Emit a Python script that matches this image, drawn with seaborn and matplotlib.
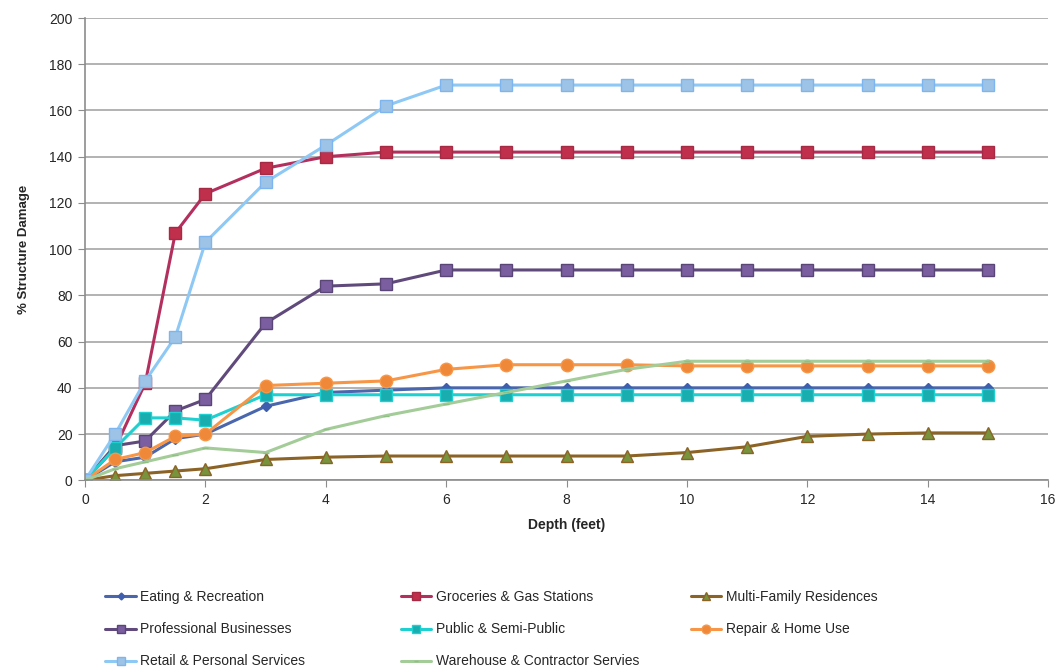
import numpy as np
import pandas as pd
import matplotlib
matplotlib.use('Agg')
import matplotlib.pyplot as plt
import seaborn as sns

depth = [0, 0.5, 1, 1.5, 2, 3, 4, 5, 6, 7, 8, 9, 10, 11, 12, 13, 14, 15]

eating = [0, 8, 10, 18, 20, 32, 38, 39, 40, 40, 40, 40, 40, 40, 40, 40, 40, 40]
groceries = [0, 14, 42, 107, 124, 135, 140, 142, 142, 142, 142, 142, 142, 142, 142, 142, 142, 142]
multi_family = [0, 2, 3, 4, 5, 9, 10, 10.5, 10.5, 10.5, 10.5, 10.5, 12, 14.5, 19, 20, 20.5, 20.5]
professional = [0, 15, 17, 30, 35, 68, 84, 85, 91, 91, 91, 91, 91, 91, 91, 91, 91, 91]
public = [0, 14, 27, 27, 26, 37, 37, 37, 37, 37, 37, 37, 37, 37, 37, 37, 37, 37]
repair = [0, 9, 12, 19, 20, 41, 42, 43, 48, 50, 50, 50, 49.5, 49.5, 49.5, 49.5, 49.5, 49.5]
retail = [0, 20, 43, 62, 103, 129, 145, 162, 171, 171, 171, 171, 171, 171, 171, 171, 171, 171]
warehouse = [0, 5, 8, 11, 14, 12, 22, 28, 33, 38, 43, 48, 51.5, 51.5, 51.5, 51.5, 51.5, 51.5]

series_names = ['Eating & Recreation', 'Groceries & Gas Stations', 'Multi-Family Residences',
                'Professional Businesses', 'Public & Semi-Public', 'Repair & Home Use',
                'Retail & Personal Services', 'Warehouse & Contractor Servies']
series_values = [eating, groceries, multi_family, professional, public, repair, retail, warehouse]

# line colour, marker, marker face, marker edge, marker size
styles = [
    ('#4a66ac', 'D', '#3f5fae', '#3f5fae', 5),
    ('#b3305e', 's', '#c0304d', '#a52a44', 8),
    ('#8b6326', '^', '#77933c', '#8b6326', 8),
    ('#604a7b', 's', '#7b5ea0', '#5a4577', 8),
    ('#1fd0d0', 's', '#1aadb0', '#1fd0d0', 8),
    ('#f79646', 'o', '#f0883a', '#f79646', 9),
    ('#8ec8f5', 's', '#9dc3e6', '#7fb5ee', 8),
    ('#a3cc98', '_', '#a3cc98', '#8fbf85', 5),
]

sns.set_style('white')
plt.rcParams['font.family'] = ['Liberation Sans', 'DejaVu Sans']

fig = plt.figure(figsize=(10.63, 6.68), dpi=100)
ax = fig.add_axes([0.080, 0.281, 0.906, 0.692])

for name, vals, (lc, mk, mfc, mec, ms) in zip(series_names, series_values, styles):
    df = pd.DataFrame({'depth': depth, 'damage': vals})
    sns.lineplot(data=df, x='depth', y='damage', ax=ax, color=lc, linewidth=2.2,
                 marker=mk, markersize=ms, markerfacecolor=mfc, markeredgecolor=mec,
                 markeredgewidth=1, label=name)

ax.set_xlim(0, 16)
ax.set_ylim(0, 200)
ax.set_xticks(np.arange(0, 17, 2))
ax.set_yticks(np.arange(0, 201, 20))
ax.yaxis.grid(True, color='#a6a6a6', linewidth=1.2)
ax.xaxis.grid(False)
for s in ['top', 'right']:
    ax.spines[s].set_visible(False)
for s in ['left', 'bottom']:
    ax.spines[s].set_color('#8c8c8c')
    ax.spines[s].set_linewidth(1.2)
ax.tick_params(axis='both', direction='out', length=5, color='#8c8c8c', labelsize=10,
               bottom=True, left=True, pad=4)
ax.set_xlabel('Depth (feet)', fontsize=10, fontweight='bold', labelpad=8)
ax.set_ylabel('% Structure Damage', fontsize=9.5, fontweight='bold', labelpad=14)

# legend fills row by row in the reference; one legend per column keeps even spacing
handles, labels = ax.get_legend_handles_labels()
ax.get_legend().remove()
col_x = [0.008, 0.315, 0.616]
for c, x0 in enumerate(col_x):
    idx = list(range(c, len(handles), 3))
    leg = ax.legend([handles[i] for i in idx], [labels[i] for i in idx],
                    loc='upper left', bbox_to_anchor=(x0, -0.211), ncol=1,
                    frameon=False, fontsize=10, handlelength=2.2, handletextpad=0.3,
                    labelspacing=1.3, markerscale=0.7)
    if c < len(col_x) - 1:
        ax.add_artist(leg)

fig.savefig('out.png', dpi=100)
